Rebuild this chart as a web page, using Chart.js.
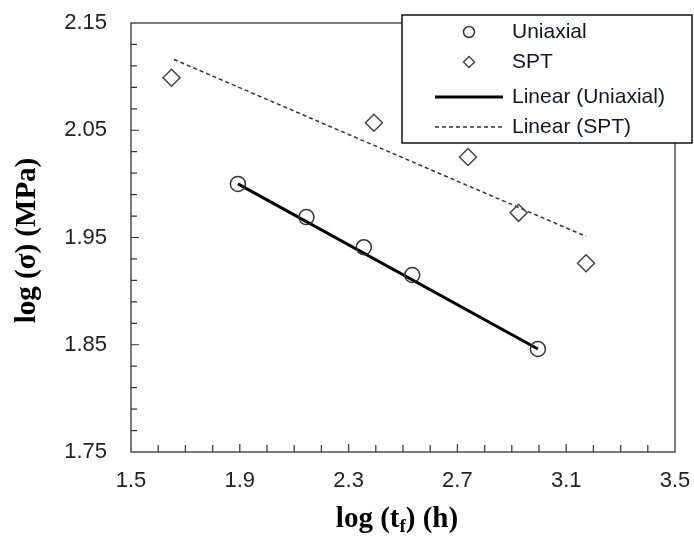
<!DOCTYPE html>
<html>
<head>
<meta charset="utf-8">
<script src="https://cdn.jsdelivr.net/npm/chart.js@4.4.0/dist/chart.umd.min.js"></script>
<style>
  html, body { margin: 0; padding: 0; background: #fff; }
  #wrap { position: relative; width: 694px; height: 541px; }
</style>
</head>
<body>
<div id="wrap"><canvas id="grafico" width="694" height="541"></canvas></div>
<script>
// Uniaxial (circulos)
const uniaxialX = [1.893, 2.145, 2.356, 2.534, 2.996];
const uniaxialY = [2.000, 1.969, 1.941, 1.915, 1.846];
// SPT (losangos)
const sptX = [1.649, 2.393, 2.739, 2.925, 3.173];
const sptY = [2.099, 2.057, 2.025, 1.973, 1.926];
// linhas de tendencia (pontas)
const fitUniX = [1.893, 2.996];
const fitUniY = [2.000, 1.846];
const fitSptX = [1.658, 3.173];
const fitSptY = [2.116, 1.951];

const xTicks = [1.5, 1.9, 2.3, 2.7, 3.1, 3.5];
const yTicks = [1.75, 1.85, 1.95, 2.05, 2.15];
const xMinorStep = 0.1;
const yMinorStep = 0.02;

const legendLabels = ['Uniaxial', 'SPT', 'Linear (Uniaxial)', 'Linear (SPT)'];

const pontos = (xs, ys) => xs.map((x, i) => ({ x: x, y: ys[i] }));

// moldura + tracinhos para dentro
const molduraPlugin = {
    id: 'moldura',
    beforeDatasetsDraw(chart) {
        const { ctx, chartArea: a, scales } = chart;
        ctx.save();
        ctx.strokeStyle = '#333';
        ctx.lineWidth = 1.3;
        ctx.strokeRect(a.left, a.top, a.right - a.left, a.bottom - a.top);

        ctx.lineWidth = 1.2;
        ctx.beginPath();
        const xs = scales.x, ys = scales.y;
        for (let v = xs.min; v <= xs.max + 1e-9; v += xMinorStep) {
            const px = xs.getPixelForValue(v);
            if (px <= a.left + 1 || px >= a.right - 1) continue;
            const major = xTicks.some(t => Math.abs(t - v) < 1e-6);
            ctx.moveTo(px, a.bottom);
            ctx.lineTo(px, a.bottom - (major ? 8 : 7));
        }
        for (let v = ys.min; v <= ys.max + 1e-9; v += yMinorStep) {
            const py = ys.getPixelForValue(v);
            if (py <= a.top + 1 || py >= a.bottom - 1) continue;
            const major = yTicks.some(t => Math.abs(t - v) < 1e-6);
            ctx.moveTo(a.left, py);
            ctx.lineTo(a.left + (major ? 8 : 6), py);
        }
        ctx.stroke();
        ctx.restore();
    }
};

function marcador(ctx, estilo, x, y, r) {
    ctx.beginPath();
    if (estilo === 'circle') {
        ctx.arc(x, y, r, 0, Math.PI * 2);
    } else {
        ctx.moveTo(x - r, y); ctx.lineTo(x, y - r);
        ctx.lineTo(x + r, y); ctx.lineTo(x, y + r);
        ctx.closePath();
    }
    ctx.stroke();
}

// titulos dos eixos e legenda em caixa
const textosPlugin = {
    id: 'textos',
    afterDraw(chart) {
        const { ctx, chartArea: a } = chart;
        ctx.save();
        ctx.fillStyle = '#000';
        const serif = '"Liberation Serif", "Times New Roman", serif';

        // titulo Y
        ctx.font = 'bold 29px ' + serif;
        ctx.textAlign = 'center';
        ctx.textBaseline = 'middle';
        ctx.save();
        ctx.translate(28, (a.top + a.bottom) / 2 + 3);
        ctx.rotate(-Math.PI / 2);
        ctx.fillText('log (\u03c3) (MPa)', 0, 0);
        ctx.restore();

        // titulo X com subscrito
        const fBig = 'bold 29px ' + serif;
        const fSub = 'bold 19px ' + serif;
        const p1 = 'log (t', p2 = 'f', p3 = ') (h)';
        ctx.font = fBig; const w1 = ctx.measureText(p1).width, w3 = ctx.measureText(p3).width;
        ctx.font = fSub; const w2 = ctx.measureText(p2).width;
        let tx = (a.left + a.right) / 2 - 6 - (w1 + w2 + w3) / 2;
        const base = 527;
        ctx.textAlign = 'left';
        ctx.textBaseline = 'alphabetic';
        ctx.font = fBig; ctx.fillText(p1, tx, base); tx += w1;
        ctx.font = fSub; ctx.fillText(p2, tx, base + 5); tx += w2;
        ctx.font = fBig; ctx.fillText(p3, tx, base);

        // legenda
        const bx = 402, by = 15, bw = 290, bh = 128;
        ctx.fillStyle = '#fff';
        ctx.fillRect(bx, by, bw, bh);
        ctx.strokeStyle = '#111';
        ctx.lineWidth = 1.5;
        ctx.strokeRect(bx, by, bw, bh);
        const rows = [32, 62, 97, 127];
        chart.data.datasets.forEach((ds, i) => {
            const y = rows[i];
            ctx.strokeStyle = ds.borderColor;
            ctx.lineWidth = ds.borderWidth;
            if (ds.showLine) {
                ctx.setLineDash(ds.borderDash || []);
                ctx.beginPath();
                ctx.moveTo(435, y); ctx.lineTo(503, y);
                ctx.stroke();
                ctx.setLineDash([]);
            } else {
                marcador(ctx, ds.pointStyle, 469, y, 5.5);
            }
            ctx.fillStyle = '#141428';
            ctx.font = '21px "Liberation Sans", Arial, sans-serif';
            ctx.textBaseline = 'middle';
            ctx.fillText(legendLabels[i], 512, y);
        });
        ctx.restore();
    }
};

const ctx = document.getElementById('grafico').getContext('2d');
const meuGrafico = new Chart(ctx, {
    type: 'scatter',
    data: {
        datasets: [
            {
                label: legendLabels[0], data: pontos(uniaxialX, uniaxialY),
                pointStyle: 'circle', pointRadius: 7.5, pointBorderWidth: 1.5,
                borderColor: '#333', borderWidth: 1.5, backgroundColor: 'rgba(0,0,0,0)',
                showLine: false, order: 1
            },
            {
                label: legendLabels[1], data: pontos(sptX, sptY),
                pointStyle: 'rectRot', pointRadius: 8.5, pointBorderWidth: 1.5,
                borderColor: '#444', borderWidth: 1.5, backgroundColor: 'rgba(0,0,0,0)',
                showLine: false, order: 2
            },
            {
                label: legendLabels[2], data: pontos(fitUniX, fitUniY),
                showLine: true, pointRadius: 0, borderColor: '#000', borderWidth: 3,
                fill: false, order: 3
            },
            {
                label: legendLabels[3], data: pontos(fitSptX, fitSptY),
                showLine: true, pointRadius: 0, borderColor: '#333', borderWidth: 1.5,
                borderDash: [4, 3], fill: false, order: 4
            }
        ]
    },
    options: {
        responsive: false,
        animation: false,
        layout: { padding: { top: 23, right: 19, left: 0, bottom: 0 } },
        plugins: { legend: { display: false }, tooltip: { enabled: false } },
        scales: {
            x: {
                type: 'linear', min: 1.5, max: 3.5,
                afterBuildTicks: s => { s.ticks = xTicks.map(v => ({ value: v })); },
                afterFit: s => { s.height = 89; s.paddingLeft = 0; s.paddingRight = 0; },
                grid: { display: false, drawTicks: false }, border: { display: false },
                ticks: {
                    padding: 16, color: '#222', maxRotation: 0,
                    font: { family: '"Liberation Sans", Arial, sans-serif', size: 22 },
                    callback: v => v.toFixed(1)
                }
            },
            y: {
                type: 'linear', min: 1.75, max: 2.15,
                afterBuildTicks: s => { s.ticks = yTicks.map(v => ({ value: v })); },
                afterFit: s => { s.width = 131; s.paddingTop = 0; s.paddingBottom = 0; },
                grid: { display: false, drawTicks: false }, border: { display: false },
                ticks: {
                    padding: 24, color: '#222',
                    font: { family: '"Liberation Sans", Arial, sans-serif', size: 22 },
                    callback: v => v.toFixed(2)
                }
            }
        }
    },
    plugins: [molduraPlugin, textosPlugin]
});
</script>
</body>
</html>
